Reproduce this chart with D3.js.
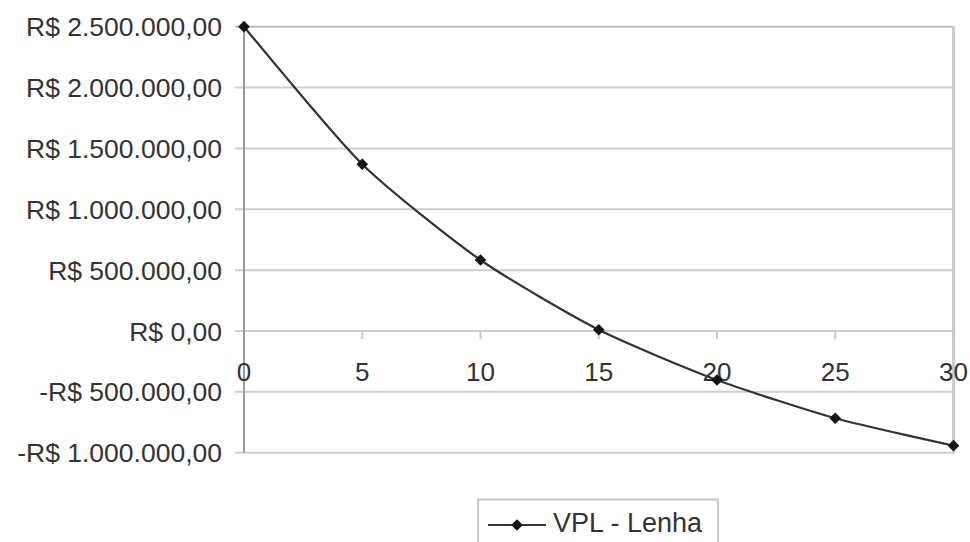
<!DOCTYPE html>
<html>
<head>
<meta charset="utf-8">
<script src="https://cdn.jsdelivr.net/npm/d3@7"></script>
<style>
  html, body { margin: 0; padding: 0; background: #fff; }
  svg { display: block; font-family: "Liberation Sans", Arial, sans-serif; }
</style>
</head>
<body>
<svg id="chart" width="970" height="542"></svg>
<script>
// Net present value (VPL) of firewood over the years
const years = [0, 5, 10, 15, 20, 25, 30];
const vplLenha = [2500000, 1370000, 583000, 10000, -403000, -717000, -942000];
const yTicks = [-1000000, -500000, 0, 500000, 1000000, 1500000, 2000000, 2500000];
const xTicks = [0, 5, 10, 15, 20, 25, 30];
const seriesName = "VPL - Lenha";

const brl = d3.formatLocale({
  decimal: ",", thousands: ".", grouping: [3],
  currency: ["R$ ", ""], minus: "-"
});
const fmt = brl.format("$,.2f");

const svg = d3.select("#chart");
const plotLeft = 244, plotRight = 953.5, plotTop = 26.7, plotBottom = 452.7;

const x = d3.scaleLinear().domain([0, 30]).range([plotLeft, plotRight]);
const y = d3.scaleLinear().domain([-1000000, 2500000]).range([plotBottom, plotTop]);

// horizontal gridlines (extend left as tick marks)
svg.append("g")
  .selectAll("line")
  .data(yTicks)
  .join("line")
  .attr("x1", plotLeft - 9)
  .attr("x2", plotRight)
  .attr("y1", d => y(d))
  .attr("y2", d => y(d))
  .attr("stroke", d => d === 2500000 ? "#bdbdbd" : "#cfcfcf")
  .attr("stroke-width", 2);

// right border of the plot area
svg.append("line")
  .attr("x1", plotRight).attr("x2", plotRight)
  .attr("y1", plotTop - 1).attr("y2", plotBottom + 1)
  .attr("stroke", "#cdcdcd").attr("stroke-width", 3);

// vertical value axis
svg.append("line")
  .attr("x1", plotLeft).attr("x2", plotLeft)
  .attr("y1", plotTop).attr("y2", plotBottom)
  .attr("stroke", "#9a9a9a").attr("stroke-width", 2);

// y tick labels
svg.append("g")
  .selectAll("text")
  .data(yTicks)
  .join("text")
  .attr("x", 222)
  .attr("y", d => y(d))
  .attr("dy", "0.36em")
  .attr("text-anchor", "end")
  .attr("font-size", 26.5)
  .attr("fill", "#333")
  .text(d => fmt(d));

// x axis tick marks on the zero line
svg.append("g")
  .selectAll("line")
  .data(xTicks.slice(1))
  .join("line")
  .attr("x1", d => x(d)).attr("x2", d => x(d))
  .attr("y1", y(0)).attr("y2", y(0) + 8)
  .attr("stroke", "#c8c8c8").attr("stroke-width", 2);

// x tick labels
svg.append("g")
  .selectAll("text")
  .data(xTicks)
  .join("text")
  .attr("x", d => x(d))
  .attr("y", y(0) + 41)
  .attr("dy", "0.36em")
  .attr("text-anchor", "middle")
  .attr("font-size", 26)
  .attr("fill", "#333")
  .text(d => d);

// series line
const pts = years.map((yr, i) => [yr, vplLenha[i]]);
const line = d3.line()
  .x(d => x(d[0]))
  .y(d => y(d[1]))
  .curve(d3.curveCardinal.tension(0.35));

svg.append("path")
  .datum(pts)
  .attr("d", line)
  .attr("fill", "none")
  .attr("stroke", "#333")
  .attr("stroke-width", 2.2);

// diamond markers
const diamond = d3.symbol().type(d3.symbolSquare).size(68);
svg.append("g")
  .selectAll("path")
  .data(pts)
  .join("path")
  .attr("d", diamond)
  .attr("transform", d => `translate(${x(d[0])},${y(d[1])}) rotate(45)`)
  .attr("fill", "#151515");

// legend
const lg = svg.append("g");
lg.append("rect")
  .attr("x", 478).attr("y", 499.5)
  .attr("width", 240).attr("height", 60)
  .attr("fill", "#fff")
  .attr("stroke", "#c8c8c8").attr("stroke-width", 2);
lg.append("line")
  .attr("x1", 488).attr("x2", 546)
  .attr("y1", 525).attr("y2", 525)
  .attr("stroke", "#333").attr("stroke-width", 2.2);
lg.append("path")
  .attr("d", diamond)
  .attr("transform", "translate(517,525) rotate(45)")
  .attr("fill", "#151515");
lg.append("text")
  .attr("x", 553).attr("y", 522)
  .attr("dy", "0.36em")
  .attr("font-size", 27)
  .attr("fill", "#333")
  .text(seriesName);
</script>
</body>
</html>
